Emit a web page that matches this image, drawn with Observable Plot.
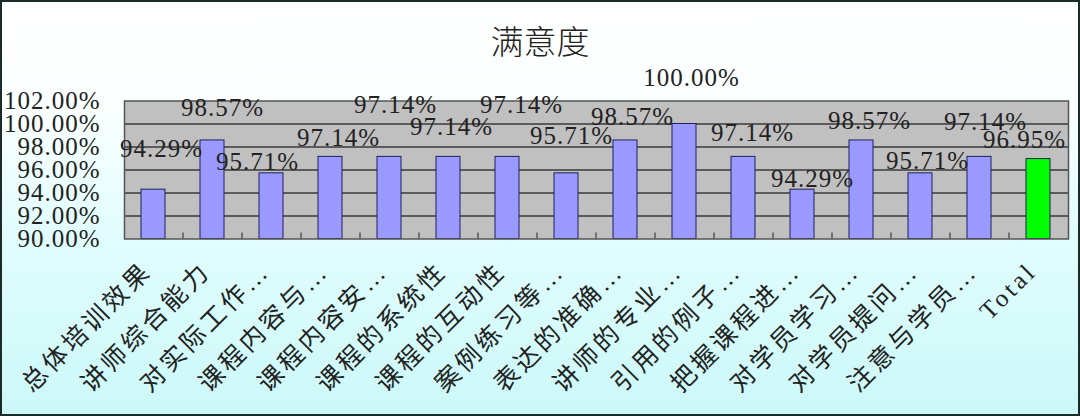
<!DOCTYPE html>
<html>
<head>
<meta charset="utf-8">
<script src="https://cdn.jsdelivr.net/npm/d3@7"></script>
<script src="https://cdn.jsdelivr.net/npm/@observablehq/plot@0.6"></script>
<style>
  html, body { margin: 0; padding: 0; }
  #chart {
    position: relative;
    width: 1080px; height: 416px;
    box-sizing: border-box;
    border: 2px solid #1c2a2a;
    background: linear-gradient(to bottom, #ffffff 0%, #fbffff 25%, #e2fdfd 55%, #ccf8f8 100%);
    overflow: hidden;
  }
  #title {
    position: absolute; left: 0; width: 1076px; top: 18px;
    text-align: center; font: 300 33px "Noto Sans CJK SC", sans-serif; color: #222;
    line-height: 40px;
  }
  #chart svg { position: absolute; left: 0; top: 0; }
  .num text { letter-spacing: 1px; }
  .cat text { letter-spacing: 3.5px; }
</style>
</head>
<body>
<div id="chart"><div id="title">满意度</div></div>
<script>
const categories = ["总体培训效果", "讲师综合能力", "对实际工作…", "课程内容与…", "课程内容安…", "课程的系统性", "课程的互动性", "案例练习等…", "表达的准确…", "讲师的专业…", "引用的例子…", "把握课程进…", "对学员学习…", "对学员提问…", "注意与学员…", "Total"];
const values = [94.29, 98.57, 95.71, 97.14, 97.14, 97.14, 97.14, 95.71, 98.57, 100.00, 97.14, 94.29, 98.57, 95.71, 97.14, 96.95];
const yTicks = [90, 92, 94, 96, 98, 100, 102];
const highlight = "Total";

// label nudges [dx, dy] in pixels (text placement only)
const labelNudge = [[8,-41],[10,-32],[-14,-11],[8,-19],[6,-52],[3,-30],[14,-52],[5,-37],[7,-23],[7,-46],[9,-24],[10,-11],[8,-19],[7,-12],[6,-35],[-14,-19]];

const table = categories.map((c, i) => ({category: c, value: values[i]}));

const W = 1076, H = 412;
const mL = 122, mR = 10, mT = 98.5, mB = 175.5;
const step = (W - mL - mR) / categories.length;
const plotH = H - mT - mB;
const numFont = '"Liberation Serif", "Noto Sans CJK SC", serif';

const chart = Plot.plot({
  width: W, height: H,
  marginTop: mT, marginLeft: mL, marginRight: mR, marginBottom: mB,
  x: {domain: categories, paddingInner: 0.59, paddingOuter: 0.295, label: null},
  y: {domain: [yTicks[0], yTicks[yTicks.length - 1]], label: null},
  style: {background: "transparent", overflow: "visible", color: "#222"},
  marks: [
    Plot.frame({fill: "#c0c0c0"}),
    Plot.gridY(yTicks.slice(1, -1), {stroke: "#3a3a3a", strokeOpacity: 1, strokeWidth: 1.5}),
    Plot.tickX(categories.slice(0, -1), {x: d => d, dx: step / 2, insetTop: plotH - 6, stroke: "#222", strokeWidth: 1}),
    Plot.barY(table.filter(d => d.category !== highlight), {x: "category", y1: yTicks[0], y2: "value", fill: "#9999ff", stroke: "#20205a", strokeWidth: 1}),
    Plot.barY(table.filter(d => d.category === highlight), {x: "category", y1: yTicks[0], y2: "value", fill: "#00ff00", stroke: "#20205a", strokeWidth: 1}),
    Plot.frame({stroke: "#555", strokeWidth: 1.5}),
    Plot.axisY(yTicks, {tickSize: 0, tickPadding: 24, tickFormat: d => d.toFixed(2) + "%", fontSize: 25, fontFamily: numFont, fill: "#222", className: "num", label: null}),
    Plot.axisX({tickSize: 0, tickPadding: 28, dx: -6, tickRotate: -45, fontSize: 25, fontFamily: numFont, fill: "#222", className: "cat", label: null}),
    ...labelNudge.map(([dx, dy], i) => Plot.text([table[i]], {
      x: "category", y: "value", text: d => d.value.toFixed(2) + "%",
      dx, dy, fontSize: 25, fontFamily: numFont, fill: "#222", className: "num"
    }))
  ]
});
document.getElementById("chart").appendChild(chart);
</script>
</body>
</html>
